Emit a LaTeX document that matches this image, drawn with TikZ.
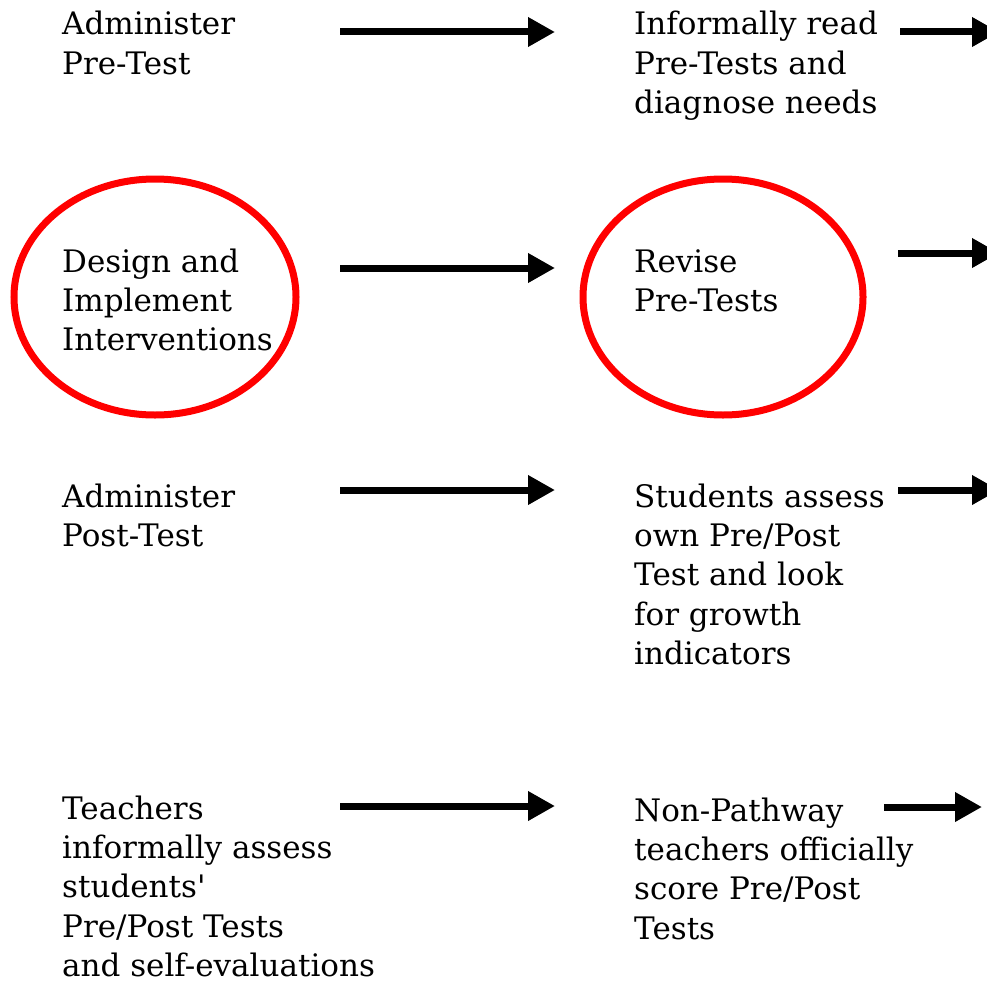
\documentclass[tikz,border=0pt]{standalone}
\usepackage{fontspec}
\setmainfont{DejaVu Serif}
\usetikzlibrary{arrows.meta,shapes.geometric}
\begin{document}
\begin{tikzpicture}[x=1pt,y=-1pt,
  lbl/.style={anchor=base west,align=left,inner sep=0pt,text depth=0pt,font=\fontsize{31}{39.4}\selectfont},
  arr/.style={line width=7pt,-{Triangle[length=27pt,width=28pt]}},
  ring/.style={draw=red,line width=7pt,ellipse,inner sep=0pt}]
\useasboundingbox (0,0) rectangle (987,982);
\fill[white] (0,0) rectangle (987,982);
% row 1
\node[lbl] (a1) at (62,74.4) {Administer\\Pre-Test};
\node[lbl] (b1) at (634,113.8) {Informally read\\Pre-Tests and\\diagnose needs};
\coordinate (a1e) at (340,32); \coordinate (b1s) at (555,32);
\coordinate (c1s) at (900,32); \coordinate (c1e) at (999,32);
\draw[arr] (a1e) -- (b1s);
\draw[arr] (c1s) -- (c1e);
% row 2
\node[ring,minimum width=282pt,minimum height=236pt] (e1) at (155,297) {};
\node[ring,minimum width=280pt,minimum height=236pt] (e2) at (723,297) {};
\node[lbl] (a2) at (62,350.8) {Design and\\Implement\\Interventions};
\node[lbl] (b2) at (634,311.4) {Revise\\Pre-Tests};
\coordinate (a2e) at (340,268); \coordinate (b2s) at (555,268);
\coordinate (c2s) at (898,253); \coordinate (c2e) at (999,253);
\draw[arr] (a2e) -- (b2s);
\draw[arr] (c2s) -- (c2e);
% row 3
\node[lbl] (a3) at (62,546.4) {Administer\\Post-Test};
\node[lbl] (b3) at (634,664.6) {Students assess\\own Pre/Post\\Test and look\\for growth\\indicators};
\coordinate (a3e) at (340,490); \coordinate (b3s) at (555,490);
\coordinate (c3s) at (898,490); \coordinate (c3e) at (999,490);
\draw[arr] (a3e) -- (b3s);
\draw[arr] (c3s) -- (c3e);
% row 4
\node[lbl] (a4) at (62,976.6) {Teachers\\informally assess\\students\textquotesingle\\Pre/Post Tests\\and self-evaluations};
\node[lbl] (b4) at (634,939.2) {Non-Pathway\\teachers officially\\score Pre/Post\\Tests};
\coordinate (a4e) at (340,806); \coordinate (b4s) at (555,806);
\coordinate (c4s) at (884,807); \coordinate (c4e) at (982,807);
\draw[arr] (a4e) -- (b4s);
\draw[arr] (c4s) -- (c4e);
\end{tikzpicture}
\end{document}
